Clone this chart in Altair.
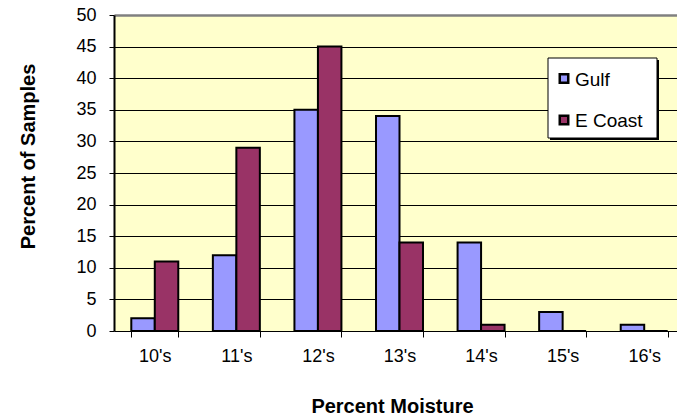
import altair as alt
import pandas as pd

categories = ["10's", "11's", "12's", "13's", "14's", "15's", "16's"]
gulf = [2, 12, 35, 34, 14, 3, 1]
ecoast = [11, 29, 45, 14, 1, 0, 0]
series = ["Gulf", "E Coast"]
colors = ["#9999FF", "#993366"]
y_ticks = [0, 5, 10, 15, 20, 25, 30, 35, 40, 45, 50]

rows = []
for c, g, e in zip(categories, gulf, ecoast):
    rows.append({"cat": c, "series": "Gulf", "value": g})
    rows.append({"cat": c, "series": "E Coast", "value": e})
df = pd.DataFrame(rows)
legend_df = pd.DataFrame({"series": series, "color": colors})

FONT = "Liberation Sans"

bars = alt.Chart(df).mark_bar(stroke="black", strokeWidth=2).encode(
    x=alt.X(
        "cat:N",
        sort=categories,
        scale=alt.Scale(range=[0, 571], paddingInner=0.424, paddingOuter=0.212),
        axis=alt.Axis(
            title="Percent Moisture",
            domain=False,
            grid=False,
            labelAngle=0,
            tickBand="extent",
            ticks=True,
            tickSize=6,
            tickColor="black",
            tickWidth=1,
            labelFont=FONT,
            labelFontSize=18,
            labelColor="black",
            labelPadding=10,
            titleFont=FONT,
            titleFontSize=20,
            titleFontWeight="bold",
            titleColor="black",
            titleX=278,
            titleY=81,
            titleAlign="center",
            titleBaseline="alphabetic",
        ),
    ),
    xOffset=alt.XOffset(
        "series:N", sort=series, scale=alt.Scale(paddingInner=0, paddingOuter=0)
    ),
    y=alt.Y(
        "value:Q",
        scale=alt.Scale(domain=[0, 50], nice=False),
        axis=alt.Axis(
            values=y_ticks,
            title="Percent of Samples",
            grid=True,
            gridColor={"condition": {"test": "datum.value == 50", "value": "#808080"}, "value": "black"},
            gridWidth={"condition": {"test": "datum.value == 50", "value": 2.5}, "value": 1},
            domain=True,
            domainColor="black",
            domainWidth=2,
            tickColor="black",
            tickSize=5,
            tickWidth=1,
            labelFont=FONT,
            labelFontSize=18,
            labelColor="black",
            labelPadding=13,
            titleFont=FONT,
            titleFontSize=20,
            titleFontWeight="bold",
            titleColor="black",
            titleX=-80,
            titleY=141,
            titleAlign="center",
            titleBaseline="alphabetic",
        ),
    ),
    color=alt.Color(
        "series:N",
        sort=series,
        scale=alt.Scale(domain=series, range=colors),
        legend=None,
    ),
)

one = pd.DataFrame({"k": [0]})
shadow = alt.Chart(one).mark_rect(fill="black", stroke=None).encode(
    x=alt.value(436), x2=alt.value(545), y=alt.value(45), y2=alt.value(125)
)
box = alt.Chart(one).mark_rect(fill="white", stroke="black", strokeWidth=1).encode(
    x=alt.value(434), x2=alt.value(543), y=alt.value(43), y2=alt.value(123)
)

layers = [bars, shadow, box]
for i, (s, col) in enumerate(zip(series, colors)):
    ypos = 63.5 + 41.5 * i
    sym = alt.Chart(legend_df).transform_filter(alt.datum.series == s).mark_square(
        size=72, filled=True, stroke="black", strokeWidth=2.5, opacity=1, fill=col
    ).encode(x=alt.value(450), y=alt.value(ypos))
    txt = alt.Chart(legend_df).transform_filter(alt.datum.series == s).mark_text(
        align="left", baseline="middle", font=FONT, fontSize=19, color="black"
    ).encode(x=alt.value(461), y=alt.value(ypos + 1), text="series:N")
    layers += [sym, txt]

chart = alt.layer(*layers).properties(
    width=563,
    height=316,
    autosize=alt.AutoSizeParams(type="none"),
    padding={"left": 114, "top": 15, "right": 0, "bottom": 88},
).configure_view(fill="#FFFFCC", stroke=None)

chart.save("out.html", embed_options={"renderer": "svg", "actions": False})
